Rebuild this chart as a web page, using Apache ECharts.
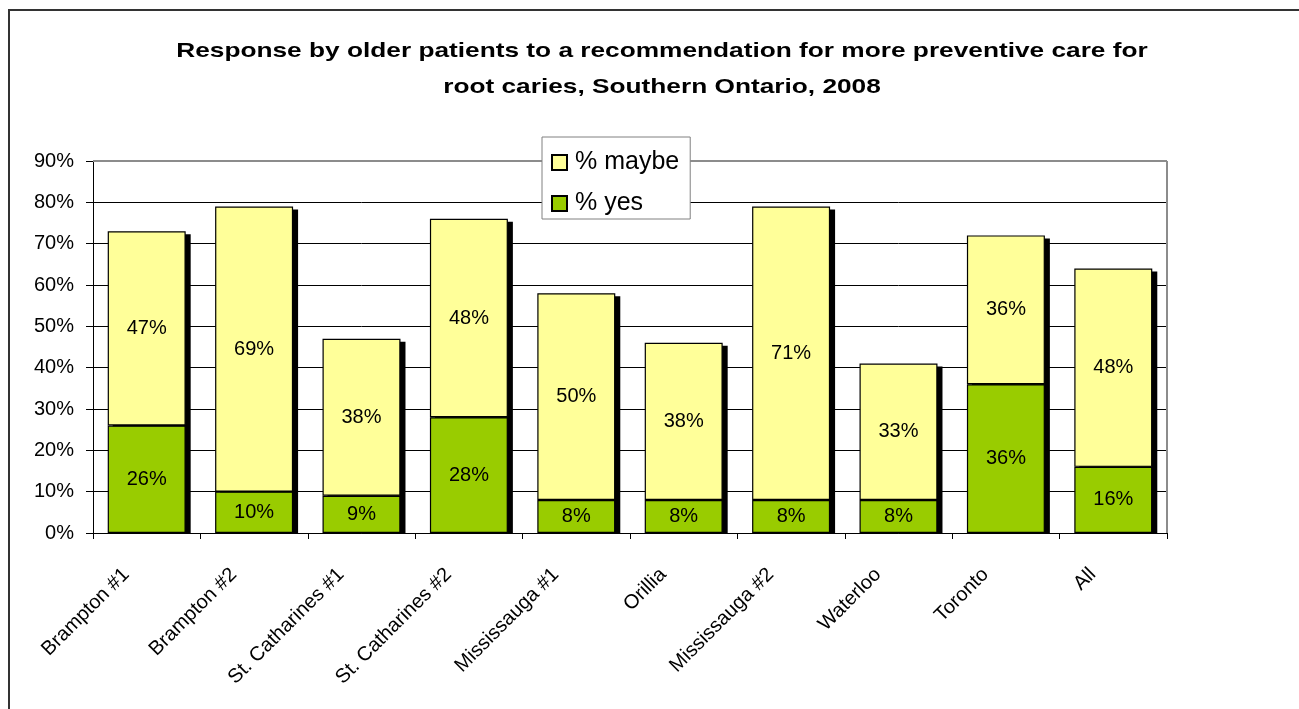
<!DOCTYPE html>
<html>
<head>
<meta charset="utf-8">
<style>
  html, body { margin: 0; padding: 0; background: #fff; }
  #chart { width: 1299px; height: 709px; }
</style>
<script src="https://cdn.jsdelivr.net/npm/echarts@6/dist/echarts.min.js"></script>
</head>
<body>
<div id="chart"></div>
<script>
// Clinic sites surveyed
const categories = ['Brampton #1', 'Brampton #2', 'St. Catharines #1', 'St. Catharines #2',
  'Mississauga #1', 'Orillia', 'Mississauga #2', 'Waterloo', 'Toronto', 'All'];
// Share of patients answering "yes" and "maybe" (percent)
const yesPct = [26, 10, 9, 28, 8, 8, 8, 8, 36, 16];
const maybePct = [47, 69, 38, 48, 50, 38, 71, 33, 36, 48];
// Value axis ticks
const yTicks = [0, 10, 20, 30, 40, 50, 60, 70, 80, 90];

const FONT = "'Liberation Sans', Arial, sans-serif";
const GRID = { left: 93, top: 161, right: 132, bottom: 176 };
const BAR_RATIO = 0.726;
const W = 1299, H = 709;

const totals = yesPct.map((v, i) => v + maybePct[i]);

const chart = echarts.init(document.getElementById('chart'), null, { renderer: 'canvas' });

const option = {
  animation: false,
  backgroundColor: '#fff',
  textStyle: { fontFamily: FONT },
  grid: GRID,
  legend: {
    data: ['% maybe', '% yes'],
    orient: 'vertical',
    left: 542,
    top: 137,
    z: 20,
    padding: [13, 11, 3, 9],
    itemGap: 16,
    itemWidth: 15,
    itemHeight: 15,
    icon: 'rect',
    backgroundColor: '#fff',
    borderColor: '#808080',
    borderWidth: 1,
    textStyle: { fontFamily: FONT, fontSize: 25, color: '#000', padding: [0, 0, 0, 3] }
  },
  xAxis: {
    type: 'category',
    data: categories,
    axisLine: { lineStyle: { color: '#000', width: 1 } },
    axisTick: { show: true, length: 6, lineStyle: { color: '#000' } },
    axisLabel: {
      rotate: 45,
      margin: 18,
      padding: [0, 29, 0, 0],
      fontFamily: FONT,
      fontSize: 20,
      color: '#000',
      interval: 0
    },
    splitLine: { show: false }
  },
  yAxis: {
    type: 'value',
    min: yTicks[0],
    max: yTicks[yTicks.length - 1],
    interval: yTicks[1] - yTicks[0],
    axisLine: { show: true, lineStyle: { color: '#000', width: 1 } },
    axisTick: { show: true, length: 7, lineStyle: { color: '#000' } },
    axisLabel: { formatter: '{value}%', fontFamily: FONT, fontSize: 20, color: '#000', margin: 19 },
    splitLine: { show: true, lineStyle: { color: '#000', width: 1 } }
  },
  series: [
    {
      // drop shadow behind each stacked column
      type: 'custom',
      z: 1,
      silent: true,
      data: totals.map((t, i) => [i, t]),
      encode: { x: 0, y: 1 },
      renderItem: function (params, api) {
        const top = api.coord([api.value(0), api.value(1)]);
        const base = api.coord([api.value(0), 0]);
        const w = api.size([1, 0])[0] * BAR_RATIO;
        return {
          type: 'rect',
          shape: { x: top[0] - w / 2 + 5, y: top[1] + 3, width: w, height: base[1] - top[1] - 3 },
          style: { fill: '#000' }
        };
      }
    },
    {
      name: '% yes',
      type: 'bar',
      stack: 'resp',
      z: 2,
      barWidth: (BAR_RATIO * 100) + '%',
      data: yesPct,
      itemStyle: { color: '#99CC00', borderColor: '#000', borderWidth: 1.2 },
      label: { show: true, position: 'inside', formatter: '{c}%', fontFamily: FONT, fontSize: 20, color: '#000' }
    },
    {
      name: '% maybe',
      type: 'bar',
      stack: 'resp',
      z: 2,
      barWidth: (BAR_RATIO * 100) + '%',
      data: maybePct,
      itemStyle: { color: '#FFFF99', borderColor: '#000', borderWidth: 1.2 },
      label: { show: true, position: 'inside', formatter: '{c}%', fontFamily: FONT, fontSize: 20, color: '#000' }
    }
  ],
  graphic: [
    // outer frame
    { type: 'line', z: 10, shape: { x1: 8, y1: 10, x2: W, y2: 10 }, style: { stroke: '#333', lineWidth: 2 } },
    { type: 'line', z: 10, shape: { x1: 9, y1: 10, x2: 9, y2: H }, style: { stroke: '#333', lineWidth: 2 } },
    // plot area edge, top and right (above gridlines, beneath the legend box)
    { type: 'line', z: 3, shape: { x1: GRID.left, y1: GRID.top, x2: W - GRID.right, y2: GRID.top }, style: { stroke: '#8c8c8c', lineWidth: 2 } },
    { type: 'line', z: 3, shape: { x1: W - GRID.right, y1: GRID.top, x2: W - GRID.right, y2: H - GRID.bottom }, style: { stroke: '#8c8c8c', lineWidth: 2 } },
    // title (wide bold face)
    {
      type: 'text', z: 10, x: 662, y: 33, scaleX: 1.25,
      style: {
        text: 'Response by older patients to a recommendation for more preventive care for\nroot caries, Southern Ontario, 2008',
        textAlign: 'center',
        fontFamily: FONT, fontWeight: 'bold', fontSize: 21, lineHeight: 36, fill: '#000'
      }
    }
  ]
};

chart.setOption(option);
</script>
</body>
</html>
